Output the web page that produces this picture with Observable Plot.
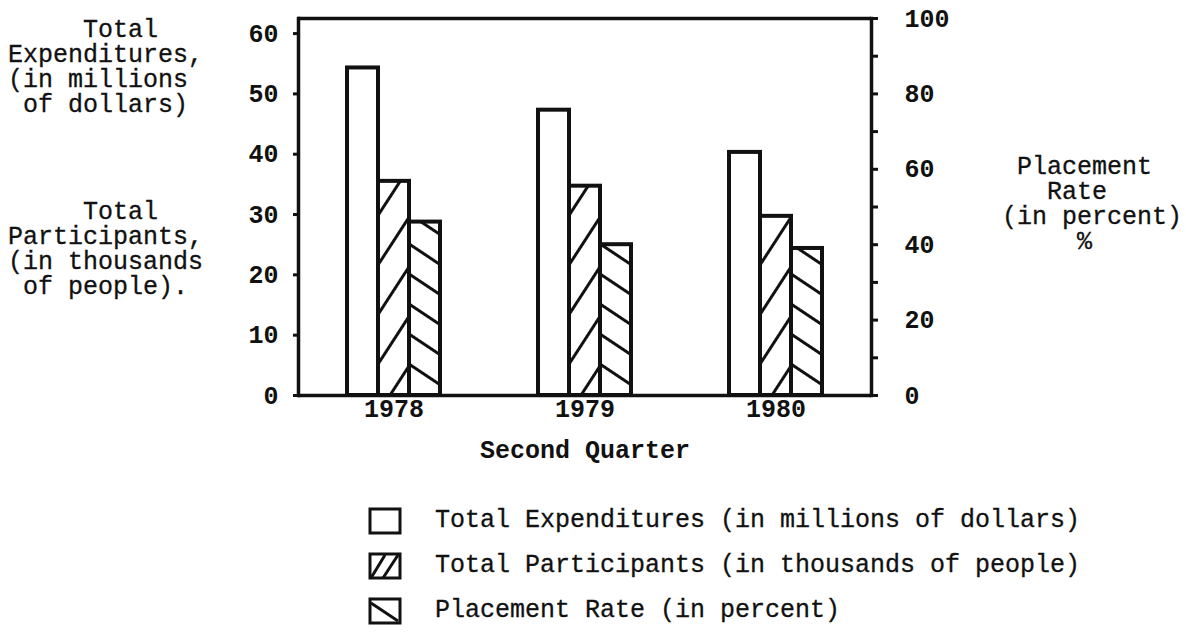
<!DOCTYPE html>
<html>
<head>
<meta charset="utf-8">
<script src="https://cdn.jsdelivr.net/npm/d3@7"></script>
<script src="https://cdn.jsdelivr.net/npm/@observablehq/plot@0.6"></script>
<style>
  html, body { margin: 0; padding: 0; background: #fff; }
  body { width: 1186px; height: 635px; overflow: hidden; position: relative;
         font-family: "Liberation Mono", "DejaVu Sans Mono", monospace; color: #111; }
  #chart { position: absolute; left: 0; top: 0; }
  .ttl { position: absolute; margin: 0; font-size: 25px; line-height: 25px; white-space: pre; -webkit-text-stroke: 0.3px #111; }
  #legend { position: absolute; left: 368px; top: 0; }
  .row { position: absolute; left: 0; display: flex; align-items: center; white-space: pre; font-size: 25px; -webkit-text-stroke: 0.3px #111; }
  .row svg { margin-right: 33px; }
</style>
</head>
<body>
<svg width="0" height="0" style="position:absolute">
  <defs>
    <pattern id="hatchFwd" patternUnits="userSpaceOnUse" width="27" height="60" patternTransform="rotate(33)">
      <line x1="1.5" y1="0" x2="1.5" y2="60" stroke="#111" stroke-width="3"/>
    </pattern>
    <pattern id="hatchBack" patternUnits="userSpaceOnUse" width="60" height="25" patternTransform="rotate(33.7)">
      <line x1="0" y1="1.5" x2="60" y2="1.5" stroke="#111" stroke-width="3"/>
    </pattern>
  </defs>
</svg>

<div id="chart"></div>

<div class="ttl" style="left:8px; top:18px;">     Total
Expenditures,
(in millions
 of dollars)</div>
<div class="ttl" style="left:8px; top:200px;">     Total
Participants,
(in thousands
 of people).</div>
<div class="ttl" style="left:1002px; top:155px;"> Placement
   Rate
(in percent)
     %</div>

<div id="legend"></div>

<script>
// ---- data ----
const years = ["1978", "1979", "1980"];
const seriesNames = [
  "Total Expenditures (in millions of dollars)",
  "Total Participants (in thousands of people)",
  "Placement Rate (in percent)"
];
const seriesKeys = ["exp", "part", "place"];
const expenditures = [54.3, 47.3, 40.3];   // millions of dollars (left axis)
const participants = [35.5, 34.7, 29.7];   // thousands of people (left axis)
const placementRate = [46, 40, 39];        // percent (right axis)
const leftTicks = [0, 10, 20, 30, 40, 50, 60];
const rightTicks = [0, 10, 20, 30, 40, 50, 60, 70, 80, 90, 100];
const rightLabelStep = 20;
const yMax = 62.5;            // top of the frame in left-axis units
const pctToLeft = yMax / 100; // 100 % on the right axis = top of frame

// ---- build table ----
const rows = [];
years.forEach((y, i) => {
  rows.push({year: y, key: "exp", value: expenditures[i]});
  rows.push({year: y, key: "part", value: participants[i]});
  rows.push({year: y, key: "place", value: placementRate[i] * pctToLeft});
});

const ink = "#111";
const chart = Plot.plot({
  width: 1186,
  height: 470,
  marginLeft: 297,
  marginRight: 314,
  marginTop: 18,
  marginBottom: 75,
  style: {fontFamily: '"Liberation Mono", monospace', fontSize: "25px", color: ink, background: "transparent", overflow: "visible"},
  fx: {domain: years, padding: 0},
  x: {domain: seriesKeys, paddingInner: 0, paddingOuter: 1.54, axis: null},
  y: {domain: [0, yMax]},
  marks: [
    Plot.barY(rows.filter(d => d.key === "exp"), {fx: "year", x: "key", y: "value", fill: "white", stroke: ink, strokeWidth: 4, inset: 0}),
    Plot.barY(rows.filter(d => d.key === "part"), {fx: "year", x: "key", y: "value", fill: "url(#hatchFwd)", stroke: ink, strokeWidth: 4, inset: 0}),
    Plot.barY(rows.filter(d => d.key === "place"), {fx: "year", x: "key", y: "value", fill: "url(#hatchBack)", stroke: ink, strokeWidth: 4, inset: 0}),
    Plot.ruleY([0, yMax], {stroke: ink, strokeWidth: 3.5}),
    Plot.frame({anchor: "left", facetAnchor: "left", stroke: ink, strokeWidth: 3.5}),
    Plot.frame({anchor: "right", facetAnchor: "right", stroke: ink, strokeWidth: 3.5}),
    Plot.axisY(leftTicks, {anchor: "left", tickSize: 5, tickPadding: 15, strokeWidth: 3, fontWeight: "bold", label: null}),
    Plot.axisY(rightTicks.map(t => t * pctToLeft), {
      anchor: "right", tickSize: 6, tickPadding: 27, strokeWidth: 3, fontWeight: "bold", label: null,
      tickFormat: v => { const p = Math.round(v / pctToLeft); return p % rightLabelStep === 0 ? String(p) : ""; }
    }),
    Plot.axisFx({anchor: "bottom", tickSize: 0, tickPadding: 4, fontWeight: "bold",
      label: "Second Quarter", labelAnchor: "center", labelOffset: 62})
  ]
});
document.getElementById("chart").appendChild(chart);

// ---- legend (HTML, below the plot) ----
const icons = [
  `<svg width="34" height="28"><rect x="2" y="2" width="30" height="24" fill="white" stroke="${ink}" stroke-width="3"/></svg>`,
  `<svg width="34" height="28"><rect x="2" y="2" width="30" height="24" fill="white" stroke="${ink}" stroke-width="3"/><line x1="3" y1="26" x2="17" y2="3" stroke="${ink}" stroke-width="3"/><line x1="15" y1="26" x2="30" y2="3" stroke="${ink}" stroke-width="3"/></svg>`,
  `<svg width="34" height="28"><rect x="2" y="2" width="30" height="24" fill="white" stroke="${ink}" stroke-width="3"/><line x1="3" y1="6" x2="30" y2="24" stroke="${ink}" stroke-width="3"/></svg>`
];
const rowTops = [506, 551, 596];
const legend = document.getElementById("legend");
seriesNames.forEach((name, i) => {
  const r = document.createElement("div");
  r.className = "row";
  r.style.top = rowTops[i] + "px";
  r.innerHTML = icons[i] + `<span>${name}</span>`;
  legend.appendChild(r);
});
</script>
</body>
</html>
